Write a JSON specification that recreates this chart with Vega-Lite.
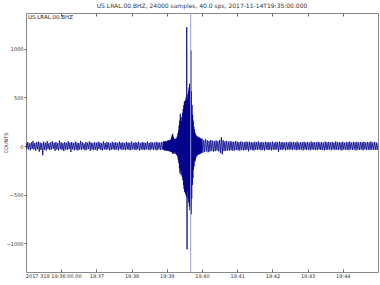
{
  "$schema": "https://vega.github.io/schema/vega-lite/v6.json",
  "autosize": "none",
  "width": 352,
  "height": 259,
  "padding": {"left": 26, "top": 13, "right": 2, "bottom": 13},
  "background": "white",
  "config": {
    "font": "DejaVu Sans",
    "view": {"stroke": "#888888", "strokeWidth": 1},
    "axis": {"domainColor": "#888888", "tickColor": "#666666", "labelColor": "#333333", "titleColor": "#333333", "grid": false, "labelFont": "DejaVu Sans", "titleFont": "DejaVu Sans", "labelFontSize": 5, "titleFontSize": 5, "titleFontWeight": "normal", "labelOverlap": false}
  },
  "title": {"text": "US.LRAL.00.BHZ, 24000 samples, 40.0 sps, 2017-11-14T19:35:00.000", "fontSize": 6, "fontWeight": "normal", "color": "#333333", "anchor": "middle", "offset": 4, "font": "DejaVu Sans"},
  "datasets": {
    "wave": [
      {"t":0,"v":32},{"t":1.5,"v":-28},{"t":3,"v":41},{"t":4.5,"v":-35},{"t":6,"v":27},{"t":7.5,"v":-44},{"t":9,"v":38},{"t":10.5,"v":-30},{"t":12,"v":52},{"t":13.5,"v":-36},{"t":15,"v":30},{"t":16.5,"v":-48},{"t":18,"v":40},{"t":19.5,"v":-33},{"t":21,"v":45},{"t":22.5,"v":-58},{"t":24,"v":36},{"t":25.5,"v":-40},{"t":27,"v":29},{"t":28.5,"v":-95},{"t":30,"v":44},{"t":31.5,"v":-38},{"t":33,"v":33},{"t":34.5,"v":-46},{"t":36,"v":50},{"t":37.5,"v":-31},{"t":39,"v":28},{"t":40.5,"v":-42},{"t":42,"v":39},{"t":43.5,"v":-35},{"t":45,"v":47},{"t":46.5,"v":-29},{"t":48,"v":34},{"t":49.5,"v":-50},{"t":51,"v":41},{"t":52.5,"v":-37},{"t":54,"v":30},{"t":55.5,"v":-45},{"t":57,"v":55},{"t":58.5,"v":-33},{"t":60,"v":37},{"t":61.5,"v":-40},{"t":63,"v":29},{"t":64.5,"v":-52},{"t":66,"v":42},{"t":67.5,"v":-36},{"t":69,"v":33},{"t":70.5,"v":-41},{"t":72,"v":48},{"t":73.5,"v":-30},{"t":75,"v":36},{"t":76.5,"v":-62},{"t":78,"v":40},{"t":79.5,"v":-34},{"t":81,"v":31},{"t":82.5,"v":-43},{"t":84,"v":45},{"t":85.5,"v":-38},{"t":87,"v":35},{"t":88.5,"v":-47},{"t":90,"v":30},{"t":91.5,"v":-36},{"t":93,"v":52},{"t":94.5,"v":-41},{"t":96,"v":38},{"t":97.5,"v":-33},{"t":99,"v":27},{"t":100.5,"v":-45},{"t":102,"v":41},{"t":103.5,"v":-39},{"t":105,"v":34},{"t":106.5,"v":-30},{"t":108,"v":46},{"t":109.5,"v":-50},{"t":111,"v":37},{"t":112.5,"v":-35},{"t":114,"v":29},{"t":115.5,"v":-42},{"t":117,"v":40},{"t":118.5,"v":-37},{"t":120,"v":33},{"t":121.5,"v":-48},{"t":123,"v":44},{"t":124.5,"v":-31},{"t":126,"v":36},{"t":127.5,"v":-40},{"t":129,"v":30},{"t":130.5,"v":-44},{"t":132,"v":48},{"t":133.5,"v":-35},{"t":135,"v":32},{"t":136.5,"v":-39},{"t":138,"v":41},{"t":139.5,"v":-33},{"t":141,"v":37},{"t":142.5,"v":-46},{"t":144,"v":29},{"t":145.5,"v":-38},{"t":147,"v":43},{"t":148.5,"v":-34},{"t":150,"v":35},{"t":151.5,"v":-41},{"t":153,"v":40},{"t":154.5,"v":-36},{"t":156,"v":31},{"t":157.5,"v":-45},{"t":159,"v":45},{"t":160.5,"v":-32},{"t":162,"v":34},{"t":163.5,"v":-40},{"t":165,"v":38},{"t":166.5,"v":-37},{"t":168,"v":30},{"t":169.5,"v":-43},{"t":171,"v":42},{"t":172.5,"v":-35},{"t":174,"v":36},{"t":175.5,"v":-39},{"t":177,"v":33},{"t":178.5,"v":-44},{"t":180,"v":47},{"t":181.5,"v":-34},{"t":183,"v":32},{"t":184.5,"v":-38},{"t":186,"v":39},{"t":187.5,"v":-41},{"t":189,"v":35},{"t":190.5,"v":-33},{"t":192,"v":44},{"t":193.5,"v":-47},{"t":195,"v":30},{"t":196.5,"v":-36},{"t":198,"v":40},{"t":199.5,"v":-39},{"t":201,"v":37},{"t":202.5,"v":-42},{"t":204,"v":33},{"t":205.5,"v":-35},{"t":207,"v":46},{"t":208.5,"v":-38},{"t":210,"v":31},{"t":211.5,"v":-44},{"t":213,"v":41},{"t":214.5,"v":-33},{"t":216,"v":36},{"t":217.5,"v":-40},{"t":219,"v":34},{"t":220.5,"v":-37},{"t":222,"v":43},{"t":223.5,"v":-45},{"t":225,"v":38},{"t":226.5,"v":-34},{"t":228,"v":35},{"t":229.5,"v":-41},{"t":231,"v":40},{"t":232.5,"v":-36},
      {"t":234,"v":45},{"t":234.5,"v":-38},{"t":235,"v":50},{"t":235.5,"v":-42},{"t":236,"v":38},{"t":236.5,"v":-47},{"t":237,"v":44},{"t":237.5,"v":-40},{"t":238,"v":52},{"t":238.5,"v":-45},{"t":239,"v":40},{"t":239.5,"v":-50},{"t":240,"v":47},{"t":240.5,"v":-43},{"t":241,"v":55},{"t":241.5,"v":-48},{"t":242,"v":42},{"t":242.5,"v":-52},{"t":243,"v":58},{"t":243.5,"v":-46},{"t":244,"v":50},{"t":244.5,"v":-55},{"t":245,"v":62},{"t":245.5,"v":-50},{"t":246,"v":57},{"t":246.5,"v":-60},{"t":247,"v":70},{"t":247.5,"v":-55},{"t":248,"v":85},{"t":248.5,"v":-62},{"t":249,"v":110},{"t":249.5,"v":-75},{"t":250,"v":125},{"t":250.5,"v":-80},{"t":251,"v":95},{"t":251.5,"v":-70},{"t":252,"v":80},{"t":252.5,"v":-65},{"t":253,"v":72},{"t":253.5,"v":-78},{"t":254,"v":68},{"t":254.5,"v":-60},{"t":255,"v":75},{"t":255.5,"v":-82},{"t":256,"v":70},{"t":256.5,"v":-90},{"t":257,"v":85},{"t":257.5,"v":-95},{"t":258,"v":100},{"t":258.5,"v":-110},{"t":259,"v":130},{"t":259.5,"v":-140},{"t":260,"v":160},{"t":260.5,"v":-175},{"t":261,"v":210},{"t":261.5,"v":-230},{"t":262,"v":260},{"t":262.5,"v":-280},{"t":263,"v":330},{"t":263.5,"v":-250},{"t":264,"v":290},{"t":264.5,"v":-300},{"t":265,"v":250},{"t":265.5,"v":-270},{"t":266,"v":300},{"t":266.5,"v":-320},{"t":267,"v":340},{"t":267.5,"v":-350},{"t":268,"v":380},{"t":268.5,"v":-400},{"t":269,"v":420},{"t":269.5,"v":-440},{"t":270,"v":460},{"t":270.5,"v":-470},{"t":271,"v":440},{"t":271.5,"v":-480},{"t":272,"v":470},{"t":272.5,"v":-500},{"t":273,"v":500},{"t":273.5,"v":-520},{"t":274,"v":1220},{"t":274.5,"v":-1060},{"t":275,"v":480},{"t":275.5,"v":-460},{"t":276,"v":530},{"t":276.5,"v":-540},{"t":277,"v":560},{"t":277.5,"v":-580},{"t":278,"v":600},{"t":278.5,"v":-620},{"t":279,"v":640},{"t":279.5,"v":-660},{"t":280,"v":620},{"t":280.5,"v":-650},{"t":281,"v":980},{"t":281.5,"v":-700},{"t":282,"v":560},{"t":282.5,"v":-540},{"t":283,"v":420},{"t":283.5,"v":-400},{"t":284,"v":320},{"t":284.5,"v":-330},{"t":285,"v":260},{"t":285.5,"v":-240},{"t":286,"v":200},{"t":286.5,"v":-210},{"t":287,"v":170},{"t":287.5,"v":-160},{"t":288,"v":140},{"t":288.5,"v":-150},{"t":289,"v":120},{"t":289.5,"v":-125},{"t":290,"v":110},{"t":290.5,"v":-100},{"t":291,"v":95},{"t":291.5,"v":-105},{"t":292,"v":90},{"t":292.5,"v":-85},{"t":293,"v":100},{"t":293.5,"v":-80},{"t":294,"v":85},{"t":294.5,"v":-90},{"t":295,"v":78},{"t":295.5,"v":-82},{"t":296,"v":88},{"t":296.5,"v":-75},{"t":297,"v":72},{"t":297.5,"v":-80},{"t":298,"v":80},{"t":298.5,"v":-70},{"t":299,"v":65},{"t":299.5,"v":-72},{"t":300,"v":75},
      {"t":301.5,"v":-68},{"t":303,"v":60},{"t":304.5,"v":-62},{"t":306,"v":70},{"t":307.5,"v":-55},{"t":309,"v":58},{"t":310.5,"v":-64},{"t":312,"v":52},{"t":313.5,"v":-57},{"t":315,"v":61},{"t":316.5,"v":-50},{"t":318,"v":55},{"t":319.5,"v":-58},{"t":321,"v":48},{"t":322.5,"v":-53},{"t":324,"v":57},{"t":325.5,"v":-46},{"t":327,"v":50},{"t":328.5,"v":-55},{"t":330,"v":62},{"t":331.5,"v":-70},{"t":333,"v":90},{"t":334.5,"v":-85},{"t":336,"v":60},{"t":337.5,"v":-52},{"t":339,"v":47},{"t":340.5,"v":-50},{"t":342,"v":53},{"t":343.5,"v":-45},{"t":345,"v":44},{"t":346.5,"v":-49},{"t":348,"v":51},{"t":349.5,"v":-43},{"t":351,"v":46},{"t":352.5,"v":-48},{"t":354,"v":42},{"t":355.5,"v":-47},{"t":357,"v":50},{"t":358.5,"v":-41},{"t":360,"v":45},{"t":361.5,"v":-44},{"t":363,"v":39},{"t":364.5,"v":-48},{"t":366,"v":46},{"t":367.5,"v":-40},{"t":369,"v":43},{"t":370.5,"v":-45},{"t":372,"v":38},{"t":373.5,"v":-42},{"t":375,"v":47},{"t":376.5,"v":-39},{"t":378,"v":41},{"t":379.5,"v":-55},{"t":381,"v":44},{"t":382.5,"v":-37},{"t":384,"v":40},{"t":385.5,"v":-43},{"t":387,"v":36},{"t":388.5,"v":-46},{"t":390,"v":45},{"t":391.5,"v":-38},{"t":393,"v":39},{"t":394.5,"v":-41},{"t":396,"v":48},{"t":397.5,"v":-36},{"t":399,"v":37},{"t":400.5,"v":-44},{"t":402,"v":42},{"t":403.5,"v":-39},{"t":405,"v":35},{"t":406.5,"v":-47},{"t":408,"v":44},{"t":409.5,"v":-35},{"t":411,"v":38},{"t":412.5,"v":-42},{"t":414,"v":41},{"t":415.5,"v":-38},{"t":417,"v":36},{"t":418.5,"v":-45},{"t":420,"v":46},{"t":421.5,"v":-37},{"t":423,"v":34},{"t":424.5,"v":-40},{"t":426,"v":43},{"t":427.5,"v":-36},{"t":429,"v":39},{"t":430.5,"v":-60},{"t":432,"v":45},{"t":433.5,"v":-38},{"t":435,"v":37},{"t":436.5,"v":-41},{"t":438,"v":40},{"t":439.5,"v":-35},{"t":441,"v":36},{"t":442.5,"v":-44},{"t":444,"v":42},{"t":445.5,"v":-37},{"t":447,"v":35},{"t":448.5,"v":-39},{"t":450,"v":44},{"t":451.5,"v":-36},{"t":453,"v":38},{"t":454.5,"v":-42},{"t":456,"v":40},{"t":457.5,"v":-34},{"t":459,"v":37},{"t":460.5,"v":-43},{"t":462,"v":45},{"t":463.5,"v":-38},{"t":465,"v":34},{"t":466.5,"v":-40},{"t":468,"v":41},{"t":469.5,"v":-36},{"t":471,"v":39},{"t":472.5,"v":-45},{"t":474,"v":43},{"t":475.5,"v":-35},{"t":477,"v":36},{"t":478.5,"v":-41},{"t":480,"v":42},{"t":481.5,"v":-37},{"t":483,"v":35},{"t":484.5,"v":-44},{"t":486,"v":46},{"t":487.5,"v":-36},{"t":489,"v":38},{"t":490.5,"v":-40},{"t":492,"v":40},{"t":493.5,"v":-38},{"t":495,"v":37},{"t":496.5,"v":-43},{"t":498,"v":44},{"t":499.5,"v":-35},{"t":501,"v":36},{"t":502.5,"v":-41},{"t":504,"v":41},{"t":505.5,"v":-39},{"t":507,"v":34},{"t":508.5,"v":-45},{"t":510,"v":45},{"t":511.5,"v":-37},{"t":513,"v":38},{"t":514.5,"v":-40},{"t":516,"v":42},{"t":517.5,"v":-36},{"t":519,"v":36},{"t":520.5,"v":-44},{"t":522,"v":43},{"t":523.5,"v":-35},{"t":525,"v":35},{"t":526.5,"v":-42},{"t":528,"v":47},{"t":529.5,"v":-38},{"t":531,"v":37},{"t":532.5,"v":-40},{"t":534,"v":40},{"t":535.5,"v":-37},{"t":537,"v":36},{"t":538.5,"v":-46},{"t":540,"v":44},{"t":541.5,"v":-36},{"t":543,"v":34},{"t":544.5,"v":-41},{"t":546,"v":41},{"t":547.5,"v":-39},{"t":549,"v":38},{"t":550.5,"v":-43},{"t":552,"v":45},{"t":553.5,"v":-35},{"t":555,"v":35},{"t":556.5,"v":-40},{"t":558,"v":42},{"t":559.5,"v":-38},{"t":561,"v":37},{"t":562.5,"v":-45},{"t":564,"v":43},{"t":565.5,"v":-36},{"t":567,"v":36},{"t":568.5,"v":-41},{"t":570,"v":40},{"t":571.5,"v":-37},{"t":573,"v":39},{"t":574.5,"v":-44},{"t":576,"v":44},{"t":577.5,"v":-35},{"t":579,"v":35},{"t":580.5,"v":-42},{"t":582,"v":41},{"t":583.5,"v":-38},{"t":585,"v":38},{"t":586.5,"v":-43},{"t":588,"v":46},{"t":589.5,"v":-36},{"t":591,"v":36},{"t":592.5,"v":-40},{"t":594,"v":42},{"t":595.5,"v":-39},{"t":597,"v":37},{"t":598.5,"v":-41},{"t":600,"v":30}
    ],
    "pick": [{"t": 280.7}],
    "label": [{"t": 0, "v": 1365, "name": "US.LRAL.00.BHZ"}]
  },
  "layer": [
    {
      "data": {"name": "wave"},
      "mark": {"type": "line", "color": "#00008b", "strokeWidth": 0.8, "clip": true},
      "encoding": {
        "x": {"field": "t", "type": "quantitative", "scale": {"domain": [0, 600], "nice": false, "zero": false},
          "axis": {"orient": "bottom", "title": null, "values": [60,120,180,240,300,360,420,480,540], "tickSize": -3, "labelPadding": 4, "domain": false,
            "labelOffset": {"condition": {"test": "datum.value == 60", "value": -8}, "value": 0},
            "labelExpr": "datum.value == 60 ? '2017 318 19:36:00.00' : '19:' + (35 + datum.value / 60)"}},
        "y": {"field": "v", "type": "quantitative", "scale": {"domain": [-1293, 1365], "nice": false, "zero": false},
          "axis": {"title": "COUNTS", "values": [-1000, -500, 0, 500, 1000], "tickSize": 2, "labelPadding": 1, "domain": false,
            "titleX": -21, "titleY": 129.5, "titleAngle": -90, "titleAlign": "center", "titleBaseline": "middle",
            "labelExpr": "replace(format(datum.value, 'd'), '-', '\u2212')"}}
      }
    },
    {
      "data": {"name": "pick"},
      "mark": {"type": "rule", "color": "#9a9ad8", "strokeWidth": 1},
      "encoding": {
        "x": {"field": "t", "type": "quantitative",
          "axis": {"orient": "top", "title": null, "values": [60,120,180,240,300,360,420,480,540], "tickSize": -3, "labels": false, "domain": false}}
      }
    },
    {
      "data": {"name": "label"},
      "mark": {"type": "text", "align": "left", "baseline": "top", "dx": 2, "dy": 2, "fontSize": 5.5, "color": "#222222", "font": "DejaVu Sans"},
      "encoding": {
        "x": {"field": "t", "type": "quantitative", "axis": null},
        "y": {"field": "v", "type": "quantitative"},
        "text": {"field": "name"}
      }
    }
  ],
  "resolve": {"axis": {"x": "independent"}}
}
